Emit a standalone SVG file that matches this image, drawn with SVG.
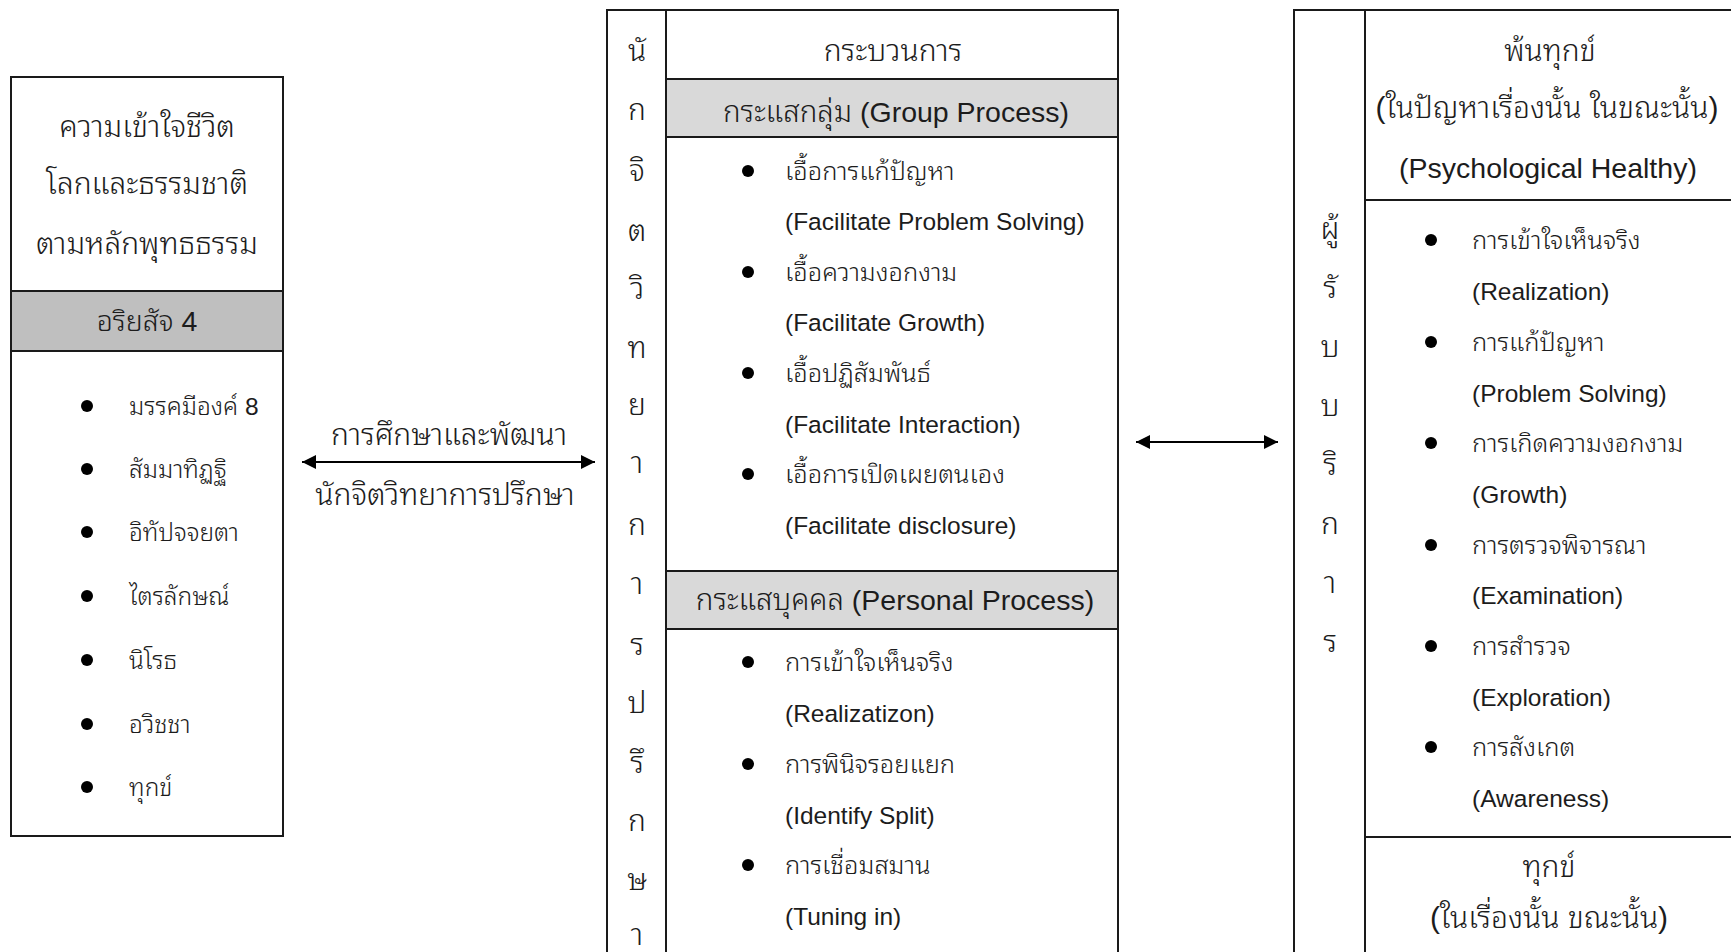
<svg xmlns="http://www.w3.org/2000/svg" width="1731" height="952" viewBox="0 0 1731 952">
  <defs>
    <marker id="arrowhead" viewBox="0 0 10 10" refX="10" refY="5" markerWidth="15" markerHeight="14" markerUnits="userSpaceOnUse" orient="auto-start-reverse">
      <path d="M0,0 L10,5 L0,10 Z" fill="#000"/>
    </marker>
    <style>
      .box { fill: #fff; stroke: #1a1a1a; stroke-width: 2; }
      .band-dark { fill: #bfbfbf; stroke: #1a1a1a; stroke-width: 2; }
      .band-light { fill: #d9d9d9; stroke: #1a1a1a; stroke-width: 2; }
      .rule { stroke: #1a1a1a; stroke-width: 2; fill: none; }
      .conn { stroke: #000; stroke-width: 2; fill: none; }
      .dot { fill: #000; }
      text { font-family: "Liberation Sans", "Noto Sans Thai Looped", "Noto Sans Thai", "Noto Serif Thai", Loma, Garuda, sans-serif; fill: #1c1c1c; font-weight: 400; }
      .tb { font-size: 25.5px; font-weight: 300; }
      .lb { font-size: 24.5px; }
      .th { font-size: 30px; font-weight: 300; }
      .lh { font-size: 28.5px; }
      .v { font-size: 30px; font-weight: 300; text-anchor: middle; }
      .m { text-anchor: middle; }
      .thai { font-weight: 300; }
    </style>
  </defs>

  <!-- Left node: Buddhist understanding -->
  <g id="node-buddhist">
    <rect class="box" x="11" y="77" width="272" height="759"/>
    <rect class="band-dark" x="11" y="291" width="272" height="60"/>
    <text class="th m" x="147" y="137">ความเข้าใจชีวิต</text>
    <text class="th m" x="147" y="194">โลกและธรรมชาติ</text>
    <text class="th m" x="147" y="254">ตามหลักพุทธธรรม</text>
    <text class="lh m" x="147" y="331"><tspan class="thai">อริยสัจ</tspan> 4</text>
    <circle class="dot" cx="87" cy="406" r="6"/>
    <text class="lb" x="129" y="415"><tspan class="thai">มรรคมีองค์</tspan> 8</text>
    <circle class="dot" cx="87" cy="469" r="6"/>
    <text class="lb thai" x="129" y="478">สัมมาทิฏฐิ</text>
    <circle class="dot" cx="87" cy="532" r="6"/>
    <text class="lb thai" x="129" y="541">อิทัปจจยตา</text>
    <circle class="dot" cx="87" cy="596" r="6"/>
    <text class="lb thai" x="129" y="605">ไตรลักษณ์</text>
    <circle class="dot" cx="87" cy="660" r="6"/>
    <text class="lb thai" x="129" y="669">นิโรธ</text>
    <circle class="dot" cx="87" cy="724" r="6"/>
    <text class="lb thai" x="129" y="733">อวิชชา</text>
    <circle class="dot" cx="87" cy="787" r="6"/>
    <text class="lb thai" x="129" y="796">ทุกข์</text>
  </g>

  <!-- Centre node: counselling process -->
  <g id="node-process">
    <rect class="box" x="607" y="10" width="511" height="960"/>
    <line class="rule" x1="666" y1="10" x2="666" y2="960"/>
    <line class="rule" x1="666" y1="79" x2="1118" y2="79"/>
    <rect class="band-light" x="666" y="79" width="452" height="58"/>
    <rect class="band-light" x="666" y="571" width="452" height="58"/>
    <text class="th m" x="893" y="61">กระบวนการ</text>
    <text class="lh m" x="896" y="122"><tspan class="thai" font-size="29.5px">กระแสกลุ่ม</tspan> (Group Process)</text>
    <text class="lh m" x="895" y="610"><tspan class="thai" font-size="29.5px">กระแสบุคคล</tspan> (Personal Process)</text>

    <circle class="dot" cx="748" cy="171" r="6"/>
    <text class="tb" x="785" y="180">เอื้อการแก้ปัญหา</text>
    <text class="lb" x="785" y="230">(Facilitate Problem Solving)</text>
    <circle class="dot" cx="748" cy="272" r="6"/>
    <text class="tb" x="785" y="281">เอื้อความงอกงาม</text>
    <text class="lb" x="785" y="331">(Facilitate Growth)</text>
    <circle class="dot" cx="748" cy="373" r="6"/>
    <text class="tb" x="785" y="382">เอื้อปฏิสัมพันธ์</text>
    <text class="lb" x="785" y="433">(Facilitate Interaction)</text>
    <circle class="dot" cx="748" cy="474" r="6"/>
    <text class="tb" x="785" y="483">เอื้อการเปิดเผยตนเอง</text>
    <text class="lb" x="785" y="534">(Facilitate disclosure)</text>

    <circle class="dot" cx="748" cy="662" r="6"/>
    <text class="tb" x="785" y="671">การเข้าใจเห็นจริง</text>
    <text class="lb" x="785" y="722">(Realizatizon)</text>
    <circle class="dot" cx="748" cy="764" r="6"/>
    <text class="tb" x="785" y="773">การพินิจรอยแยก</text>
    <text class="lb" x="785" y="824">(Identify Split)</text>
    <circle class="dot" cx="748" cy="865" r="6"/>
    <text class="tb" x="785" y="874">การเชื่อมสมาน</text>
    <text class="lb" x="785" y="925">(Tuning in)</text>

    <!-- vertical label, one syllable per row -->
    <text class="v" x="637" y="61">นั</text>
    <text class="v" x="637" y="120">ก</text>
    <text class="v" x="637" y="181">จิ</text>
    <text class="v" x="637" y="241">ต</text>
    <text class="v" x="637" y="299">วิ</text>
    <text class="v" x="637" y="358">ท</text>
    <text class="v" x="637" y="415">ย</text>
    <text class="v" x="637" y="473">า</text>
    <text class="v" x="637" y="535">ก</text>
    <text class="v" x="637" y="594">า</text>
    <text class="v" x="637" y="655">ร</text>
    <text class="v" x="637" y="713">ป</text>
    <text class="v" x="637" y="773">รึ</text>
    <text class="v" x="637" y="831">ก</text>
    <text class="v" x="637" y="890">ษ</text>
    <text class="v" x="637" y="945">า</text>
  </g>

  <!-- Right node: client outcome -->
  <g id="node-client">
    <rect class="box" x="1294" y="10" width="460" height="960"/>
    <line class="rule" x1="1365" y1="10" x2="1365" y2="960"/>
    <line class="rule" x1="1365" y1="200" x2="1740" y2="200"/>
    <line class="rule" x1="1365" y1="837" x2="1740" y2="837"/>
    <text class="th m" x="1550" y="61">พ้นทุกข์</text>
    <text class="th m" x="1547" y="118" font-size="31px">(ในปัญหาเรื่องนั้น ในขณะนั้น)</text>
    <text class="lh m" x="1548" y="178">(Psychological Healthy)</text>

    <circle class="dot" cx="1431" cy="240" r="6"/>
    <text class="tb" x="1472" y="249">การเข้าใจเห็นจริง</text>
    <text class="lb" x="1472" y="300">(Realization)</text>
    <circle class="dot" cx="1431" cy="342" r="6"/>
    <text class="tb" x="1472" y="351">การแก้ปัญหา</text>
    <text class="lb" x="1472" y="402">(Problem Solving)</text>
    <circle class="dot" cx="1431" cy="443" r="6"/>
    <text class="tb" x="1472" y="452">การเกิดความงอกงาม</text>
    <text class="lb" x="1472" y="503">(Growth)</text>
    <circle class="dot" cx="1431" cy="545" r="6"/>
    <text class="tb" x="1472" y="554">การตรวจพิจารณา</text>
    <text class="lb" x="1472" y="604">(Examination)</text>
    <circle class="dot" cx="1431" cy="646" r="6"/>
    <text class="tb" x="1472" y="655">การสำรวจ</text>
    <text class="lb" x="1472" y="706">(Exploration)</text>
    <circle class="dot" cx="1431" cy="747" r="6"/>
    <text class="tb" x="1472" y="756">การสังเกต</text>
    <text class="lb" x="1472" y="807">(Awareness)</text>

    <text class="th m" x="1549" y="877">ทุกข์</text>
    <text class="th m" x="1549" y="928">(ในเรื่องนั้น ขณะนั้น)</text>

    <text class="v" x="1330" y="239">ผู้</text>
    <text class="v" x="1330" y="298">รั</text>
    <text class="v" x="1330" y="357">บ</text>
    <text class="v" x="1330" y="416">บ</text>
    <text class="v" x="1330" y="475">ริ</text>
    <text class="v" x="1330" y="534">ก</text>
    <text class="v" x="1330" y="593">า</text>
    <text class="v" x="1330" y="652">ร</text>
  </g>

  <!-- Connectors -->
  <g id="connectors">
    <line class="conn" x1="302" y1="462" x2="595" y2="462" marker-start="url(#arrowhead)" marker-end="url(#arrowhead)"/>
    <text class="th m" x="449" y="445" font-size="29.5px">การศึกษาและพัฒนา</text>
    <text class="th m" x="445" y="505" font-size="29.5px">นักจิตวิทยาการปรึกษา</text>
    <line class="conn" x1="1136" y1="442" x2="1278" y2="442" marker-start="url(#arrowhead)" marker-end="url(#arrowhead)"/>
  </g>
</svg>
